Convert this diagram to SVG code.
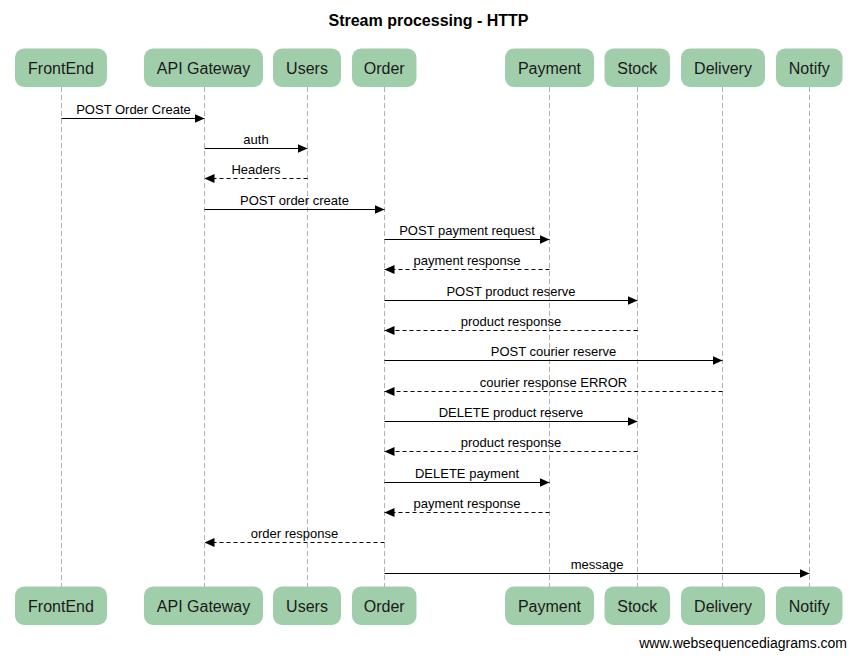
<svg xmlns="http://www.w3.org/2000/svg" width="857" height="659" viewBox="0 0 857 659">
<style>
.title{font-family:"Liberation Sans",Arial,sans-serif;font-size:16px;font-weight:bold;fill:#000;text-anchor:middle}
.box{fill:#a1ceaa;stroke:none}
.pl{font-family:"Liberation Sans",Arial,sans-serif;font-size:16px;fill:#1a1a1a;text-anchor:middle}
.life{stroke:#b0b0b0;stroke-width:1;stroke-dasharray:5,3;fill:none}
.msg{stroke:#000;stroke-width:1;fill:none;marker-end:url(#ah)}
.ret{stroke:#000;stroke-width:1;fill:none;stroke-dasharray:4,3;marker-end:url(#ah)}
.ml{font-family:"Liberation Sans",Arial,sans-serif;font-size:13px;fill:#000;text-anchor:middle}
.foot{font-family:"Liberation Sans",Arial,sans-serif;font-size:14px;fill:#000;text-anchor:end}
</style>
<defs>
<marker id="ah" viewBox="0 0 10 9" refX="10" refY="4.5" markerWidth="10" markerHeight="9" markerUnits="userSpaceOnUse" orient="auto">
<path d="M0,0 L10,4.5 L0,9 z" fill="#000"/>
</marker>
</defs>
<rect width="857" height="659" fill="#fff"/>
<text class="title" x="428.5" y="26">Stream processing - HTTP</text>

<g id="lifelines">
<line class="life" x1="61.5" y1="87" x2="61.5" y2="587"/>
<line class="life" x1="204.5" y1="87" x2="204.5" y2="587"/>
<line class="life" x1="307.5" y1="87" x2="307.5" y2="587"/>
<line class="life" x1="384.5" y1="87" x2="384.5" y2="587"/>
<line class="life" x1="549.5" y1="87" x2="549.5" y2="587"/>
<line class="life" x1="637.5" y1="87" x2="637.5" y2="587"/>
<line class="life" x1="722.5" y1="87" x2="722.5" y2="587"/>
<line class="life" x1="809.5" y1="87" x2="809.5" y2="587"/>
</g>

<g id="FrontEnd">
<rect class="box" x="15" y="48.5" width="92" height="38.5" rx="9"/>
<text class="pl" x="61" y="73.5">FrontEnd</text>
<rect class="box" x="15" y="586.5" width="92" height="38.5" rx="9"/>
<text class="pl" x="61" y="611.5">FrontEnd</text>
</g>
<g id="APIGateway">
<rect class="box" x="144" y="48.5" width="119" height="38.5" rx="9"/>
<text class="pl" x="203.5" y="73.5">API Gateway</text>
<rect class="box" x="144" y="586.5" width="119" height="38.5" rx="9"/>
<text class="pl" x="203.5" y="611.5">API Gateway</text>
</g>
<g id="Users">
<rect class="box" x="273" y="48.5" width="68" height="38.5" rx="9"/>
<text class="pl" x="307" y="73.5">Users</text>
<rect class="box" x="273" y="586.5" width="68" height="38.5" rx="9"/>
<text class="pl" x="307" y="611.5">Users</text>
</g>
<g id="Order">
<rect class="box" x="352" y="48.5" width="64.5" height="38.5" rx="9"/>
<text class="pl" x="384.25" y="73.5">Order</text>
<rect class="box" x="352" y="586.5" width="64.5" height="38.5" rx="9"/>
<text class="pl" x="384.25" y="611.5">Order</text>
</g>
<g id="Payment">
<rect class="box" x="505" y="48.5" width="89" height="38.5" rx="9"/>
<text class="pl" x="549.5" y="73.5">Payment</text>
<rect class="box" x="505" y="586.5" width="89" height="38.5" rx="9"/>
<text class="pl" x="549.5" y="611.5">Payment</text>
</g>
<g id="Stock">
<rect class="box" x="604.5" y="48.5" width="65.5" height="38.5" rx="9"/>
<text class="pl" x="637.25" y="73.5">Stock</text>
<rect class="box" x="604.5" y="586.5" width="65.5" height="38.5" rx="9"/>
<text class="pl" x="637.25" y="611.5">Stock</text>
</g>
<g id="Delivery">
<rect class="box" x="681" y="48.5" width="84" height="38.5" rx="9"/>
<text class="pl" x="723" y="73.5">Delivery</text>
<rect class="box" x="681" y="586.5" width="84" height="38.5" rx="9"/>
<text class="pl" x="723" y="611.5">Delivery</text>
</g>
<g id="Notify">
<rect class="box" x="776" y="48.5" width="66.5" height="38.5" rx="9"/>
<text class="pl" x="809.25" y="73.5">Notify</text>
<rect class="box" x="776" y="586.5" width="66.5" height="38.5" rx="9"/>
<text class="pl" x="809.25" y="611.5">Notify</text>
</g>

<g id="connectors">
<path class="msg" d="M61.5,118.5 H204.5"/>
<text class="ml" x="133.5" y="113.5">POST Order Create</text>
<path class="msg" d="M204.5,148.5 H307.5"/>
<text class="ml" x="256" y="143.5">auth</text>
<path class="ret" d="M307.5,178.5 H204.5"/>
<text class="ml" x="256" y="173.5">Headers</text>
<path class="msg" d="M204.5,209.5 H384.5"/>
<text class="ml" x="294.5" y="204.5">POST order create</text>
<path class="msg" d="M384.5,239.5 H549.5"/>
<text class="ml" x="467" y="234.5">POST payment request</text>
<path class="ret" d="M549.5,269.5 H384.5"/>
<text class="ml" x="467" y="264.5">payment response</text>
<path class="msg" d="M384.5,300.5 H637.5"/>
<text class="ml" x="511" y="295.5">POST product reserve</text>
<path class="ret" d="M637.5,330.5 H384.5"/>
<text class="ml" x="511" y="325.5">product response</text>
<path class="msg" d="M384.5,360.5 H722.5"/>
<text class="ml" x="553.5" y="355.5">POST courier reserve</text>
<path class="ret" d="M722.5,391.5 H384.5"/>
<text class="ml" x="553.5" y="386.5">courier response ERROR</text>
<path class="msg" d="M384.5,421.5 H637.5"/>
<text class="ml" x="511" y="416.5">DELETE product reserve</text>
<path class="ret" d="M637.5,451.5 H384.5"/>
<text class="ml" x="511" y="446.5">product response</text>
<path class="msg" d="M384.5,482.5 H549.5"/>
<text class="ml" x="467" y="477.5">DELETE payment</text>
<path class="ret" d="M549.5,512.5 H384.5"/>
<text class="ml" x="467" y="507.5">payment response</text>
<path class="ret" d="M384.5,542.5 H204.5"/>
<text class="ml" x="294.5" y="537.5">order response</text>
<path class="msg" d="M384.5,573.5 H809.5"/>
<text class="ml" x="597" y="568.5">message</text>
</g>

<text class="foot" x="847" y="648">www.websequencediagrams.com</text>
</svg>
